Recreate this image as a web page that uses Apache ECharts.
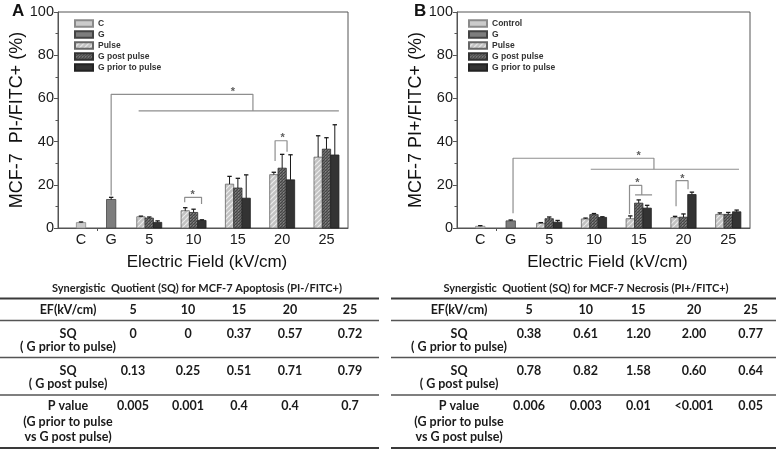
<!DOCTYPE html>
<html>
<head>
<meta charset="utf-8">
<script src="https://cdn.jsdelivr.net/npm/echarts@6.0.0/dist/echarts.min.js"></script>
<style>
  html, body { margin: 0; padding: 0; background: #fff; }
  #chart { width: 778px; height: 453px; }
</style>
</head>
<body>
<div id="chart"></div>
<script>
// x slots (axis units) and their tick labels
var xLabels = ['C', 'G', '5', '10', '15', '20', '25'];
var xSlots = [2.6, 6.0, 10.3, 15.3, 20.3, 25.3, 30.3];
var xBreak = [4.4];

// A: apoptosis PI-/FITC+ (%)
var apoC = [2.5], apoCErr = [0.3];
var apoG = [13.2], apoGErr = [1.0];
var apoPulse = [5.2, 8.0, 20.3, 24.7, 32.8], apoPulseErr = [0.3, 1.4, 3.6, 1.1, 9.9];
var apoPost = [4.6, 7.2, 18.5, 27.7, 36.5], apoPostErr = [0.5, 1.5, 4.5, 6.4, 5.3];
var apoPrior = [2.6, 3.5, 13.8, 22.3, 33.8], apoPriorErr = [0.7, 0.3, 10.8, 11.6, 14.0];

// B: necrosis PI+/FITC+ (%)
var necC = [0.8], necCErr = [0.3];
var necG = [3.3], necGErr = [0.4];
var necPulse = [2.2, 4.2, 4.3, 4.8, 6.3], necPulseErr = [0.3, 0.4, 1.3, 0.6, 0.7];
var necPost = [4.3, 6.2, 11.5, 5.0, 6.3], necPostErr = [0.8, 0.5, 1.5, 1.5, 0.9];
var necPrior = [2.7, 4.9, 9.2, 15.5, 7.5], necPriorErr = [0.8, 0.3, 1.3, 1.1, 0.8];

// significance brackets [x, y] and stars
var apoBrackets = [
    [[6.0, 15], [6.0, 61.9], [22.0, 61.9], [22.0, 54.2]],
    [[9.1, 54.2], [31.7, 54.2]],
    [[14.3, 11.9], [14.3, 14.2], [16.2, 14.2], [16.2, 11.1]],
    [[24.5, 31], [24.5, 40.4], [25.85, 40.4], [25.85, 35.3]]
];
var apoStars = [[19.75, 63.8], [15.2, 16.3], [25.35, 42.4]];
var necBrackets = [
    [[6.26, 6.8], [6.26, 32.3], [22.0, 32.3], [22.0, 27.2]],
    [[14.94, 27.2], [31.5, 27.2]],
    [[19.27, 6.5], [19.27, 19.7], [20.64, 19.7], [20.64, 15.3]],
    [[19.89, 15.3], [21.79, 15.3]],
    [[24.47, 10.1], [24.47, 21.9], [25.81, 21.9], [25.81, 17.9]]
];
var necStars = [[20.3, 34.2], [20.15, 21.6], [25.17, 23.8]];

// tables
var efCols = ['5', '10', '15', '20', '25'];
var apoSqPrior = ['0', '0', '0.37', '0.57', '0.72'];
var apoSqPost = ['0.13', '0.25', '0.51', '0.71', '0.79'];
var apoPval = ['0.005', '0.001', '0.4', '0.4', '0.7'];
var necSqPrior = ['0.38', '0.61', '1.20', '2.00', '0.77'];
var necSqPost = ['0.78', '0.82', '1.58', '0.60', '0.64'];
var necPval = ['0.006', '0.003', '0.01', '<0.001', '0.05'];
var rowLabels = [
    ['SQ', '( G prior to pulse)'],
    ['SQ', '( G post pulse)'],
    ['P value', '(G prior to pulse', 'vs G post pulse)']
];

var FONT = '"Liberation Sans", Arial, sans-serif';
var TFONT = 'Lato, "Open Sans", sans-serif';

function makePattern(size, draw) {
    var c = document.createElement('canvas');
    c.width = size;
    c.height = size;
    draw(c.getContext('2d'), size);
    return { image: c, repeat: 'repeat' };
}

var cFill = '#cbcbcb';
var gFill = '#7d7d7d';
var priorFill = '#333333';
var pulseFill = makePattern(5, function (ctx, s) {
    ctx.fillStyle = '#c2c2c2';
    ctx.fillRect(0, 0, s, s);
    ctx.strokeStyle = '#ececec';
    ctx.lineWidth = 1.2;
    for (var k = -1; k <= 1; k++) {
        ctx.beginPath();
        ctx.moveTo(k * s, s);
        ctx.lineTo(k * s + s, 0);
        ctx.stroke();
    }
});
var postFill = makePattern(3, function (ctx, s) {
    ctx.fillStyle = '#666666';
    ctx.fillRect(0, 0, s, s);
    ctx.fillStyle = '#454545';
    ctx.fillRect(0, 0, 1, 1);
    ctx.fillRect(2, 1, 1, 1);
    ctx.fillRect(1, 2, 1, 1);
    ctx.fillStyle = '#858585';
    ctx.fillRect(1, 0, 1, 1);
});

function barItem(fill, stroke, shift, wUnits) {
    return function (params, api) {
        var x = api.value(0), v = api.value(1), e = api.value(2);
        var base = api.coord([x, 0]);
        var top = api.coord([x, v]);
        var cap = api.coord([x, v + e]);
        var w = api.size([wUnits, 0])[0];
        var cx = base[0] + shift * w;
        return {
            type: 'group',
            children: [
                { type: 'rect', shape: { x: cx - w / 2, y: top[1], width: w, height: base[1] - top[1] },
                  style: { fill: fill, stroke: stroke, lineWidth: 0.8 } },
                { type: 'line', shape: { x1: cx, y1: top[1], x2: cx, y2: cap[1] },
                  style: { stroke: '#1a1a1a', lineWidth: 1 } },
                { type: 'line', shape: { x1: cx - 2.2, y1: cap[1], x2: cx + 2.2, y2: cap[1] },
                  style: { stroke: '#1a1a1a', lineWidth: 1.3 } }
            ]
        };
    };
}

function barSeries(name, idx, xs, vals, errs, fill, stroke, shift, w) {
    return {
        type: 'custom',
        name: name,
        xAxisIndex: idx,
        yAxisIndex: idx,
        clip: false,
        z: 3,
        itemStyle: { color: fill, borderColor: stroke, borderWidth: 0.8 },
        encode: { x: 0, y: 1 },
        renderItem: barItem(fill, stroke, shift, w),
        data: vals.map(function (v, i) { return [xs[i], v, errs[i]]; })
    };
}

function bracketSeries(idx, pts) {
    return {
        type: 'line', xAxisIndex: idx, yAxisIndex: idx, data: pts,
        symbol: 'none', silent: true, z: 2,
        lineStyle: { color: '#8e8e8e', width: 1.2 }
    };
}

function starSeries(idx, pts) {
    return {
        type: 'scatter', xAxisIndex: idx, yAxisIndex: idx, data: pts,
        symbolSize: 1, itemStyle: { color: 'rgba(0,0,0,0)' }, silent: true, z: 4,
        label: { show: true, formatter: '*', position: 'inside', offset: [0, 2],
                 fontSize: 11, fontWeight: 'bold', color: '#333', fontFamily: FONT }
    };
}

var groupSlots = xSlots.slice(2);

function panelSeries(idx, names, c, cErr, g, gErr, pulse, pulseErr, post, postErr, prior, priorErr) {
    return [
        barSeries(names[0], idx, [xSlots[0]], c, cErr, cFill, '#8a8a8a', 0, 1.05),
        barSeries(names[1], idx, [xSlots[1]], g, gErr, gFill, '#444', 0, 1.05),
        barSeries(names[2], idx, groupSlots, pulse, pulseErr, pulseFill, '#666', -1, 0.94),
        barSeries(names[3], idx, groupSlots, post, postErr, postFill, '#333', 0, 0.94),
        barSeries(names[4], idx, groupSlots, prior, priorErr, priorFill, '#222', 1, 0.94)
    ];
}

var namesA = ['C', 'G', 'Pulse', 'G post pulse', 'G prior to pulse'];
var namesB = ['Control', 'G', 'Pulse', 'G post pulse', 'G prior to pulse'];

var series = []
    .concat(panelSeries(0, namesA, apoC, apoCErr, apoG, apoGErr, apoPulse, apoPulseErr, apoPost, apoPostErr, apoPrior, apoPriorErr))
    .concat(panelSeries(1, namesB, necC, necCErr, necG, necGErr, necPulse, necPulseErr, necPost, necPostErr, necPrior, necPriorErr))
    .concat(apoBrackets.map(function (b) { return bracketSeries(0, b); }))
    .concat(necBrackets.map(function (b) { return bracketSeries(1, b); }))
    .concat([starSeries(0, apoStars), starSeries(1, necStars)]);

function xAxis(idx) {
    return {
        type: 'value', gridIndex: idx, min: 0, max: 32.73,
        axisLine: { show: true, onZero: false, lineStyle: { color: '#555', width: 1 } },
        axisTick: { show: true, customValues: xBreak, length: 3, lineStyle: { color: '#555' } },
        splitLine: { show: false },
        axisLabel: {
            customValues: xSlots, margin: 4, fontSize: 14.5, color: '#1a1a1a', fontFamily: FONT,
            formatter: function (v) {
                for (var i = 0; i < xSlots.length; i++) {
                    if (Math.abs(xSlots[i] - v) < 1e-6) return xLabels[i];
                }
                return '';
            }
        },
        name: 'Electric Field (kV/cm)', nameLocation: 'middle', nameGap: 26,
        nameTextStyle: { fontSize: 17, color: '#111', fontFamily: FONT, padding: [0, 0, 0, 8] }
    };
}

function yAxis(idx, title) {
    return {
        type: 'value', gridIndex: idx, min: 0, max: 100, interval: 20,
        axisLine: { show: true, lineStyle: { color: '#555', width: 1 } },
        axisTick: { show: true, length: 4, lineStyle: { color: '#555' } },
        minorTick: { show: true, splitNumber: 2, length: 2.5, lineStyle: { color: '#555' } },
        splitLine: { show: false },
        axisLabel: { margin: 4, fontSize: 14.5, color: '#1a1a1a', fontFamily: FONT },
        name: title, nameLocation: 'middle', nameGap: 27,
        nameTextStyle: { fontSize: 18, color: '#111', fontFamily: FONT }
    };
}

function legendAt(left, names) {
    return {
        left: left, top: 19, orient: 'vertical', padding: 0,
        itemWidth: 18, itemHeight: 6.5, itemGap: 2, icon: 'rect',
        selectedMode: false,
        textStyle: { fontSize: 8.5, fontWeight: 'bold', color: '#333', fontFamily: FONT, lineHeight: 8 },
        data: names
    };
}

// table drawn as graphic elements
var lineYs = [298.5, 320.5, 357.5, 395, 448];
var headerY = 310;
var rowYs = [[333.5, 346.5], [371, 384], [406, 421.5, 437]];

function tableGraphics(x0, x1, labelX, colX, titleX, title, rowsVals) {
    var g = [];
    g.push({ type: 'text', x: titleX, y: 288,
             style: { text: title, font: 'bold 11px ' + TFONT, fill: '#222', align: 'center', verticalAlign: 'middle' } });
    lineYs.forEach(function (y, i) {
        var thick = (i === 0 || i === lineYs.length - 1);
        g.push({ type: 'line', shape: { x1: x0, y1: y, x2: x1, y2: y },
                 style: { stroke: thick ? '#3a3a3a' : '#555', lineWidth: thick ? 2 : 1.5 } });
    });
    function txt(s, x, y) {
        g.push({ type: 'text', x: x, y: y,
                 style: { text: s, font: 'bold 12.5px ' + TFONT, fill: '#1a1a1a', align: 'center', verticalAlign: 'middle' } });
    }
    txt('EF(kV/cm)', labelX, headerY);
    efCols.forEach(function (s, i) { txt(s, colX[i], headerY); });
    rowsVals.forEach(function (vals, r) {
        rowLabels[r].forEach(function (s, k) { txt(s, labelX, rowYs[r][k]); });
        vals.forEach(function (s, i) { txt(s, colX[i], rowYs[r][0]); });
    });
    return g;
}

var graphics = [
    { type: 'text', x: 12, y: 11, style: { text: 'A', font: 'bold 17px ' + FONT, fill: '#111', verticalAlign: 'middle' } },
    { type: 'text', x: 414, y: 11, style: { text: 'B', font: 'bold 17px ' + FONT, fill: '#111', verticalAlign: 'middle' } }
].concat(
    tableGraphics(0, 379, 68, [133, 188, 239, 290, 350], 197,
        'Synergistic  Quotient (SQ) for MCF-7 Apoptosis (PI-/FITC+)', [apoSqPrior, apoSqPost, apoPval]),
    tableGraphics(391, 776, 459, [529, 585.7, 638.3, 694, 750.7], 586,
        'Synergistic  Quotient (SQ) for MCF-7 Necrosis (PI+/FITC+)', [necSqPrior, necSqPost, necPval])
);

var myChart = echarts.init(document.getElementById('chart'));

var option = {
    animation: false,
    backgroundColor: '#fff',
    textStyle: { fontFamily: FONT },
    grid: [
        { left: 58, top: 12, width: 290, height: 216, show: true, borderColor: '#555', borderWidth: 1, outerBoundsMode: 'none' },
        { left: 457, top: 12, width: 293, height: 216, show: true, borderColor: '#555', borderWidth: 1, outerBoundsMode: 'none' }
    ],
    xAxis: [xAxis(0), xAxis(1)],
    yAxis: [yAxis(0, 'MCF-7  PI-/FITC+ (%)'), yAxis(1, 'MCF-7 PI+/FITC+ (%)')],
    legend: [legendAt(74, namesA), legendAt(468, namesB)],
    graphic: graphics,
    series: series
};

myChart.setOption(option);
</script>
</body>
</html>
